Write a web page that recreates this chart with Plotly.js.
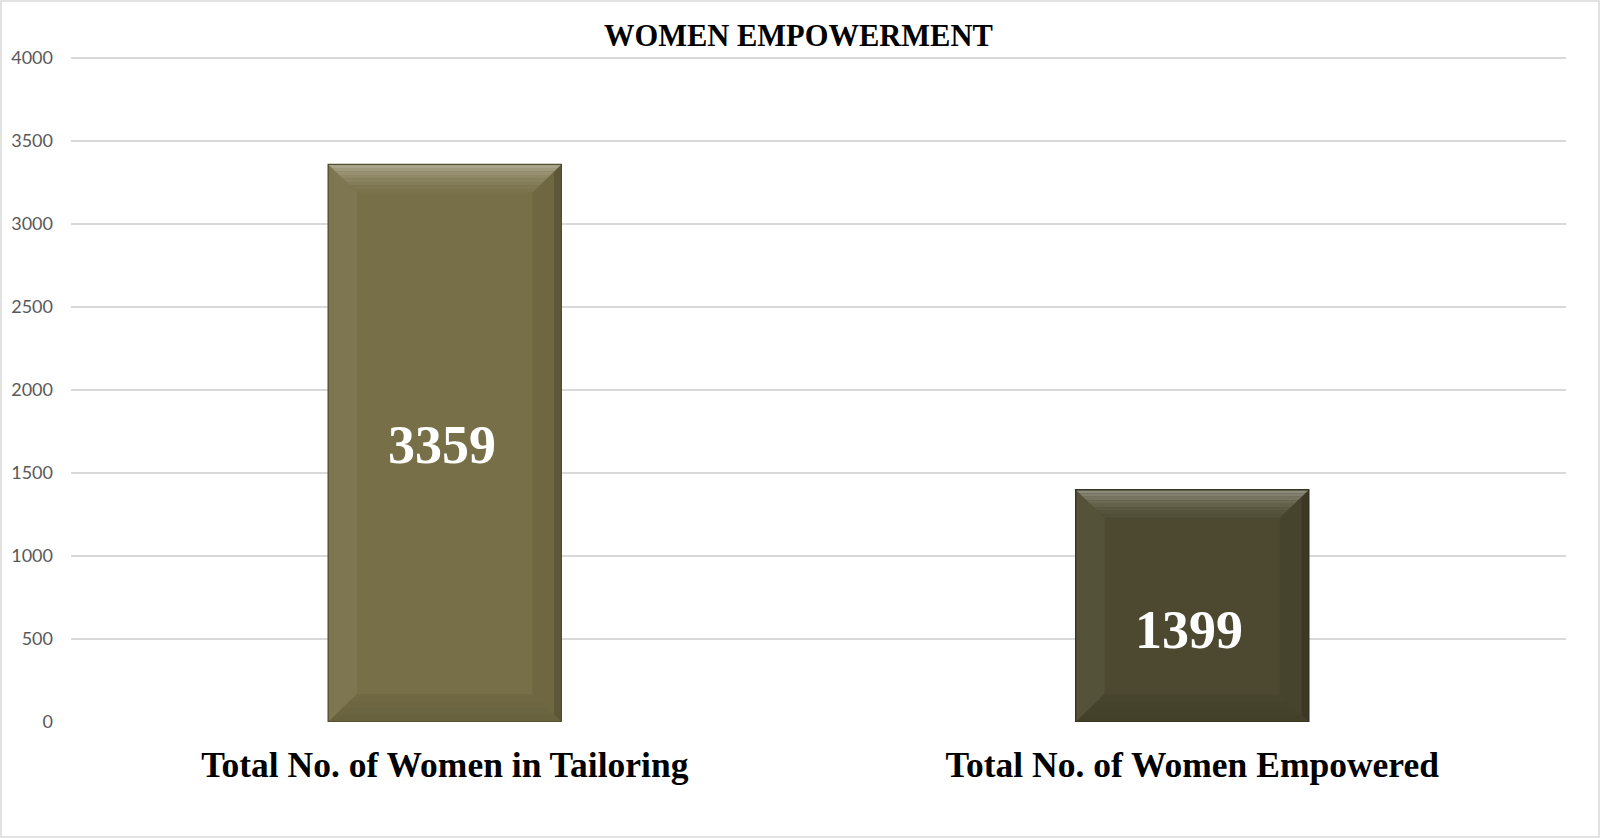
<!DOCTYPE html>
<html>
<head>
<meta charset="utf-8">
<script src="https://cdn.plot.ly/plotly-3.0.1.min.js"></script>
<style>
  body { margin: 0; background: #fff; }
  #chart { width: 1600px; height: 838px; }
</style>
</head>
<body>
<div id="chart"></div>
<script>
// data
let categories = ["Total No. of Women in Tailoring", "Total No. of Women Empowered"];
let values = [3359, 1399];
let barColors = ["#776f47", "#4c4930"];
let yTicks = [0, 500, 1000, 1500, 2000, 2500, 3000, 3500, 4000];

let xs = categories.map((c, i) => i);
let barWidth = 0.312;
let yTop = 4030;   // a little head room so the 4000 grid line is drawn

// shift a hex colour lighter (f > 0) or darker (f < 0)
function shade(hex, f) {
    let n = parseInt(hex.slice(1), 16);
    let rgb = [(n >> 16) & 255, (n >> 8) & 255, n & 255].map(c => {
        let v = f > 0 ? c + (255 - c) * f : c * (1 + f);
        return Math.round(Math.max(0, Math.min(255, v)));
    });
    return "rgb(" + rgb.join(",") + ")";
}

// bevel look: trapezoids on each bar, sizes from the axis scale
let pxPerUnitY = 664 / 4000;
let plotH = Math.round(pxPerUnitY * yTop);
let pxPerUnitX = 1495 / 2;
let dx = 29 / pxPerUnitX;
let dy = 28 / pxPerUnitY;
let shapes = [];
for (let i = 0; i < values.length; i++) {
    let x0 = xs[i] - barWidth / 2, x1 = xs[i] + barWidth / 2;
    let y0 = 0, y1 = values[i];
    let c = barColors[i];
    let poly = (pts, col) => shapes.push({
        type: "path", xref: "x", yref: "y", layer: "above",
        path: "M" + pts.map(p => p[0] + "," + p[1]).join(" L") + " Z",
        fillcolor: col, line: {width: 0}
    });
    // left and right sides
    poly([[x0, y1], [x0 + dx, y1 - dy], [x0 + dx, y0 + dy], [x0, y0]], shade(c, 0.05));
    poly([[x1, y1], [x1 - dx, y1 - dy], [x1 - dx, y0 + dy], [x1, y0]], shade(c, -0.07));
    // darker strip at the very right edge
    poly([[x1, y1], [x1 - dx * 0.25, y1 - dy * 0.25], [x1 - dx * 0.25, y0 + dy * 0.25], [x1, y0]], shade(c, -0.22));
    // top band, light at the edge fading into the face
    let steps = 8;
    for (let s = 0; s < steps; s++) {
        let a = s / steps, b = (s + 1) / steps;
        let f = 0.34 * Math.pow(1 - a, 1.6) + 0.02;
        poly([[x0 + dx * a, y1 - dy * a], [x1 - dx * a, y1 - dy * a],
              [x1 - dx * b, y1 - dy * b], [x0 + dx * b, y1 - dy * b]], shade(c, f));
    }
    // bottom band, a little darker
    for (let s = 0; s < 4; s++) {
        let a = s / 4, b = (s + 1) / 4;
        poly([[x0 + dx * a, y0 + dy * a], [x1 - dx * a, y0 + dy * a],
              [x1 - dx * b, y0 + dy * b], [x0 + dx * b, y0 + dy * b]], shade(c, -0.12 + 0.08 * a));
    }
    // outline
    shapes.push({
        type: "rect", xref: "x", yref: "y", layer: "above",
        x0: x0, x1: x1, y0: y0, y1: y1,
        line: {color: shade(c, -0.3), width: 1.3}
    });
}

// chart border (pixel box 1..1599 x 1..837)
shapes.push({
    type: "rect", xref: "paper", yref: "paper", layer: "below",
    x0: -70 / 1495, x1: 1528 / 1495, y0: -115 / plotH, y1: 721 / plotH,
    line: {color: "#d9d9d9", width: 1.5}
});

let labelShift = [-2, -24];
let annotations = values.map((v, i) => ({
    x: xs[i], y: v / 2, xref: "x", yref: "y",
    text: "<b>" + v + "</b>", showarrow: false, yshift: labelShift[i], xshift: -3,
    font: {family: "Liberation Serif", size: 54, color: "#ffffff"}
}));

let trace = {
    type: "bar",
    x: xs,
    y: values,
    width: barWidth,
    marker: {color: barColors},
    hoverinfo: "none"
};

let layout = {
    width: 1600,
    height: 838,
    margin: {l: 71, r: 34, t: 722 - plotH, b: 116},
    paper_bgcolor: "#ffffff",
    plot_bgcolor: "#ffffff",
    title: {
        text: "<b>WOMEN EMPOWERMENT</b>",
        x: 0.499, xanchor: "center",
        y: 1 - 35 / 838, yanchor: "middle", yref: "container",
        font: {family: "Liberation Serif", size: 30.5, color: "#000000"}
    },
    xaxis: {
        range: [-0.5, 1.5],
        tickvals: xs,
        ticktext: categories.map(c => "<b>" + c + "</b>"),
        showgrid: false,
        zeroline: false,
        showline: false,
        ticks: "",
        ticklabelstandoff: 18,
        tickfont: {family: "Liberation Serif", size: 35.5, color: "#000000"}
    },
    yaxis: {
        range: [0, yTop],
        tickvals: yTicks,
        showgrid: true,
        gridcolor: "#d9d9d9",
        gridwidth: 1.3,
        zeroline: false,
        showline: false,
        ticks: "",
        ticklabelstandoff: 17,
        tickfont: {family: "Lato", size: 18, color: "#595959"}
    },
    shapes: shapes,
    annotations: annotations,
    showlegend: false,
    bargap: 0
};

Plotly.newPlot("chart", [trace], layout, {displayModeBar: false, staticPlot: true});
</script>
</body>
</html>
